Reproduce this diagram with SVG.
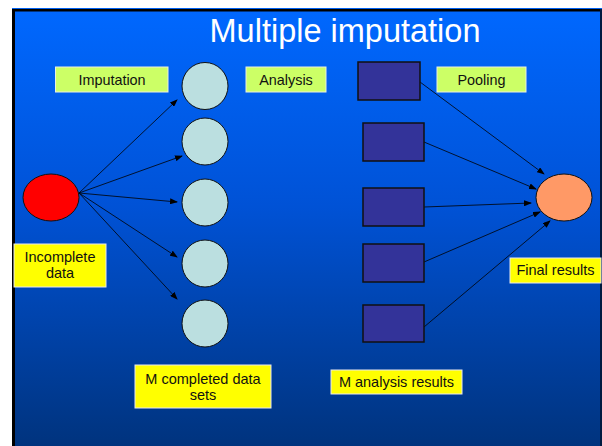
<svg xmlns="http://www.w3.org/2000/svg" width="602" height="446" viewBox="0 0 602 446">
<defs>
<linearGradient id="bg" x1="0" y1="0" x2="0" y2="1">
<stop offset="0" stop-color="#0068ff"/>
<stop offset="0.45" stop-color="#0052d6"/>
<stop offset="1" stop-color="#00337d"/>
</linearGradient>
<marker id="ah" markerWidth="8" markerHeight="6" refX="7" refY="3" orient="auto" markerUnits="userSpaceOnUse">
<path d="M0,0 L8,3 L0,6 z" fill="#000"/>
</marker>
</defs>
<style>
text{font-family:"Liberation Sans",Arial,sans-serif;fill:#111;text-anchor:middle}
.g{fill:#ccff66;stroke:#e8f0e0;stroke-width:1}
.y{fill:#ffff00;stroke:#e8e8f0;stroke-width:1}
.c{fill:#bbdfe0;stroke:#111;stroke-width:1}
.r{fill:#333399;stroke:#111;stroke-width:1.5}
.gl{font-size:14.4px}
.yl{font-size:14.5px}
#connectors line{stroke:#000;stroke-width:0.8;marker-end:url(#ah)}
</style>
<rect x="0" y="0" width="602" height="446" fill="#fff"/>
<rect x="12" y="8" width="590" height="440" fill="url(#bg)"/>
<rect x="12" y="8" width="590" height="1" fill="#0060f0"/>
<rect x="12" y="9" width="590" height="2.5" fill="#000"/>
<rect x="12" y="9" width="3" height="437" fill="#000"/>
<rect x="600" y="9" width="2" height="437" fill="#001a40"/>
<text x="345" y="41.5" style="font-size:32.5px;fill:#fff">Multiple imputation</text>

<g id="connectors">
<line x1="79" y1="193" x2="177" y2="100"/>
<line x1="79" y1="193" x2="182" y2="156"/>
<line x1="79" y1="193" x2="177" y2="202"/>
<line x1="79" y1="193" x2="177" y2="257"/>
<line x1="79" y1="193" x2="177" y2="299"/>
<line x1="420" y1="82" x2="544" y2="174"/>
<line x1="424" y1="142" x2="536" y2="189"/>
<line x1="424" y1="207" x2="531" y2="203"/>
<line x1="424" y1="262" x2="540" y2="212"/>
<line x1="424" y1="327" x2="550" y2="221"/>
</g>

<g id="label-imputation"><rect class="g" x="55.5" y="67" width="112.5" height="25"/><text class="gl" x="112" y="85">Imputation</text></g>
<g id="label-analysis"><rect class="g" x="246" y="67" width="80" height="25"/><text class="gl" x="286" y="85">Analysis</text></g>
<g id="label-pooling"><rect class="g" x="437" y="67" width="89" height="25"/><text class="gl" x="481.5" y="85">Pooling</text></g>

<g id="incomplete"><ellipse cx="51" cy="197.5" rx="28" ry="23.5" fill="#ff0000" stroke="#111" stroke-width="1"/></g>
<g id="label-incomplete"><rect class="y" x="14" y="244" width="92" height="43"/><text class="yl" x="60" y="262">Incomplete</text><text class="yl" x="60" y="278">data</text></g>

<g id="set1"><ellipse class="c" cx="205" cy="86" rx="23" ry="23.5"/></g>
<g id="set2"><ellipse class="c" cx="205" cy="141.5" rx="23" ry="23.5"/></g>
<g id="set3"><ellipse class="c" cx="205" cy="202.5" rx="23" ry="23.5"/></g>
<g id="set4"><ellipse class="c" cx="205" cy="263.5" rx="23" ry="23.5"/></g>
<g id="set5"><ellipse class="c" cx="205" cy="323.5" rx="23" ry="23.5"/></g>

<g id="res1"><rect class="r" x="358" y="62" width="62" height="38"/></g>
<g id="res2"><rect class="r" x="363" y="123" width="61" height="38"/></g>
<g id="res3"><rect class="r" x="363" y="188" width="61" height="38"/></g>
<g id="res4"><rect class="r" x="363" y="244" width="61" height="38"/></g>
<g id="res5"><rect class="r" x="363" y="305" width="61" height="37"/></g>

<g id="final"><ellipse cx="564" cy="197.5" rx="28" ry="23.5" fill="#ff9966" stroke="#111" stroke-width="1"/></g>
<g id="label-final"><rect class="y" x="510" y="258" width="91" height="25"/><text class="yl" x="555.5" y="275">Final results</text></g>

<g id="label-m-completed"><rect class="y" x="135" y="365" width="136" height="43"/><text class="yl" x="203" y="384">M completed data</text><text class="yl" x="203" y="400">sets</text></g>
<g id="label-m-analysis"><rect class="y" x="331" y="370" width="131" height="24"/><text class="yl" x="396.5" y="387">M analysis results</text></g>
</svg>
